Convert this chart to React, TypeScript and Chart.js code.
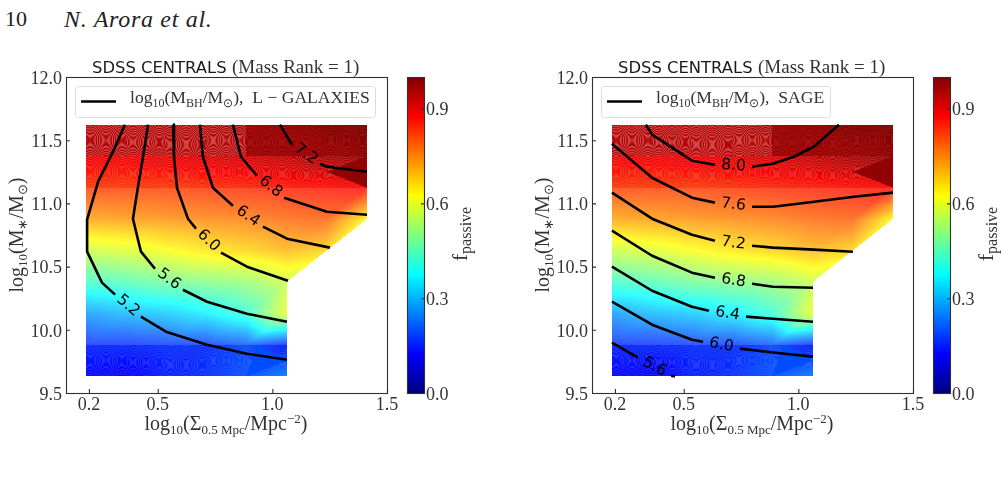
import React, { useEffect, useRef } from "react";
import { Chart, registerables } from "chart.js";
Chart.register(...registerables);

// ---- data ----
const xTicks = [0.2, 0.5, 1.0, 1.5];
const yTicks = [9.5, 10.0, 10.5, 11.0, 11.5, 12.0];
const barTicks = [0.0, 0.3, 0.6, 0.9];
const xNodes = [0.187, 0.362, 0.537, 0.712, 0.887, 1.062, 1.237, 1.412];
const yNodes = [11.623, 11.374, 11.125, 10.876, 10.627, 10.378, 10.129, 9.88, 9.631];
const N = null;
const fPassive11_62 = [0.95, 0.95, 0.96, 0.96, 0.98, 0.99, 1.0, 1.0];
const fPassive11_37 = [0.89, 0.89, 0.9, 0.91, 0.92, 0.94, 0.97, 0.99];
const fPassive11_13 = [0.82, 0.82, 0.82, 0.83, 0.84, 0.85, 0.86, 0.87];
const fPassive10_88 = [0.72, 0.73, 0.74, 0.75, 0.76, 0.78, 0.79, 0.63];
const fPassive10_63 = [0.57, 0.59, 0.62, 0.65, 0.67, 0.7, 0.67, N];
const fPassive10_38 = [0.43, 0.45, 0.48, 0.5, 0.52, 0.57, N, N];
const fPassive10_13 = [0.27, 0.3, 0.32, 0.36, 0.42, 0.6, N, N];
const fPassive9_88 = [0.16, 0.16, 0.17, 0.17, 0.2, 0.15, N, N];
const fPassive9_63 = [0.12, 0.11, 0.15, 0.17, 0.21, 0.26, N, N];
const fPassiveRows = [fPassive11_62, fPassive11_37, fPassive11_13, fPassive10_88, fPassive10_63, fPassive10_38, fPassive10_13, fPassive9_88, fPassive9_63];

const GAP = [NaN, NaN];
const lgal52 = [[.357,11.623],[.305,11.409],[.24,11.172],[.192,10.871],[.192,10.618],[.257,10.373],[.314,10.278],GAP,[.427,10.104],[.536,9.985],[.715,9.882],[.889,9.811],[1.064,9.763]];
const lgal56 = [[.458,11.623],[.436,11.369],[.414,11.132],[.392,10.879],[.414,10.713],[.427,10.618],[.488,10.483],GAP,[.61,10.317],[.715,10.222],[.889,10.127],[1.064,10.064]];
const lgal60 = [[.567,11.623],[.571,11.369],[.584,11.124],[.632,10.879],[.667,10.8],GAP,[.776,10.61],[.889,10.499],[1.068,10.388]];
const lgal64 = [[.684,11.623],[.697,11.369],[.741,11.124],[.828,10.982],GAP,[.959,10.816],[1.064,10.721],[1.251,10.65]];
const lgal68 = [[.828,11.623],[.863,11.369],[.933,11.219],GAP,[1.051,11.045],[1.238,10.934],[1.413,10.91]];
const lgal72 = [[1.033,11.623],[1.086,11.464],GAP,[1.208,11.314],[1.238,11.29],[1.413,11.251]];
const sage80 = [[.335,11.623],[.362,11.544],[.536,11.338],[.636,11.306],GAP,[.798,11.29],[.889,11.314],[.981,11.369],[1.068,11.449],[1.177,11.623]];
const sage76 = [[.187,11.472],[.362,11.203],[.536,11.045],[.636,11.006],GAP,[.798,10.974],[.889,10.974],[1.068,11.013],[1.243,11.053],[1.413,11.085]];
const sage72 = [[.187,11.085],[.362,10.879],[.536,10.752],[.636,10.705],GAP,[.798,10.665],[.889,10.65],[1.068,10.634],[1.238,10.618]];
const sage68 = [[.187,10.784],[.362,10.586],[.536,10.452],[.636,10.412],GAP,[.798,10.365],[.889,10.341],[1.064,10.333]];
const sage64 = [[.187,10.499],[.362,10.309],[.536,10.183],[.61,10.151],GAP,[.772,10.104],[.889,10.088],[1.064,10.064]];
const sage60 = [[.187,10.222],[.362,10.04],[.536,9.922],[.584,9.906],GAP,[.745,9.851],[.889,9.82],[1.064,9.788]];
const sage56 = [[.187,9.898],[.301,9.779],GAP,[.445,9.636],[.462,9.63]];
const lgalLevels = ["5.2", "5.6", "6.0", "6.4", "6.8", "7.2"];
const lgalLines = [lgal52, lgal56, lgal60, lgal64, lgal68, lgal72];
const sageLevels = ["8.0", "7.6", "7.2", "6.8", "6.4", "6.0", "5.6"];
const sageLines = [sage80, sage76, sage72, sage68, sage64, sage60, sage56];

// ---- styling ----
const SERIF = '"Liberation Serif"';
const INK = "#333333";
const W = 504, H = 487;

type Run = { t: string; s?: number; d?: number; f?: string; c?: string };
function width(ctx: any, runs: Run[], base: number) {
  let w = 0;
  for (const r of runs) { ctx.font = `${r.s || base}px ${r.f || SERIF}`; w += ctx.measureText(r.t).width; }
  return w;
}
function drawRuns(ctx: any, x: number, y: number, runs: Run[], base: number, opt: { center?: boolean; rot?: number } = {}) {
  ctx.save();
  ctx.translate(x, y);
  if (opt.rot) ctx.rotate(opt.rot);
  ctx.textBaseline = "alphabetic";
  ctx.textAlign = "left";
  let c = opt.center ? -width(ctx, runs, base) / 2 : 0;
  for (const r of runs) {
    ctx.font = `${r.s || base}px ${r.f || SERIF}`;
    ctx.fillStyle = r.c || INK;
    ctx.fillText(r.t, c, r.d || 0);
    c += ctx.measureText(r.t).width;
  }
  ctx.restore();
}

const clip = (v: number) => Math.max(0, Math.min(1, v));
const jet = (v: number) => [clip(1.5 - Math.abs(4 * v - 3)), clip(1.5 - Math.abs(4 * v - 2)), clip(1.5 - Math.abs(4 * v - 1))].map((c) => c * 255);

// how strongly each mesh row carries the rasterising fringe of the printed figure
const rowFringe = [0.5, 0.32, 0, 0, 0, 0, 0, 0.35];
const rowFringeColor = [[235, 150, 150], [225, 140, 140], [0, 0, 0], [0, 0, 0], [0, 0, 0], [0, 0, 0], [0, 0, 0], [110, 110, 255]];
const rowWash = [0, 0, 0.18, 0.2, 0.2, 0.2, 0.2, 0];

const side = (px: number, py: number, ax: number, ay: number, bx: number, by: number) => (bx - ax) * (py - ay) - (by - ay) * (px - ax);

const meshPlugin = {
  id: "mesh",
  beforeDatasetsDraw(chart: any) {
    const { left, top, width: aw, height: ah } = chart.chartArea;
    const sx = chart.scales.x, sy = chart.scales.y;
    const off = document.createElement("canvas");
    off.width = aw; off.height = ah;
    const oc = off.getContext("2d")!;
    const img = oc.createImageData(aw, ah);
    const dxN = xNodes[1] - xNodes[0], dyN = yNodes[0] - yNodes[1];
    for (let j = 0; j < ah; j++) for (let i = 0; i < aw; i++) {
      const X = sx.getValueForPixel(left + i + 0.5), Y = sy.getValueForPixel(top + j + 0.5);
      const cf = (X - xNodes[0]) / dxN, rf = (yNodes[0] - Y) / dyN;
      const c = Math.floor(cf), r = Math.floor(rf);
      if (c < 0 || r < 0 || c >= xNodes.length - 1 || r >= yNodes.length - 1) continue;
      const u = cf - c, w = rf - r;
      const tl = fPassiveRows[r][c], tr = fPassiveRows[r][c + 1], bl = fPassiveRows[r + 1][c], br = fPassiveRows[r + 1][c + 1];
      let v: number | null = null;
      if (u + w <= 1) {
        if (tl != null && tr != null && bl != null) v = tl + u * (tr - tl) + w * (bl - tl);
      } else if (tr != null && bl != null && br != null) {
        v = br + (1 - u) * (bl - br) + (1 - w) * (tr - br);
      }
      if (v == null) continue;
      let fr = rowFringe[r];
      if (r === 0) {
        // the top band stays saturated dark red; its right half is almost solid
        v = Math.max(v, c >= 4 ? 0.975 : 0.95);
        if (c >= 4) fr = 0.12;
      }
      if (r === 1 && c === 6 && u > 2 * Math.abs(w - 0.5)) { v = 0.985; fr = 0.04; }
      if (r === 7 && c === 4) {
        const s1 = side(u, w, 0, 1, 0.28, 0), s2 = side(u, w, 0.28, 0, 1, 0.5), s3 = side(u, w, 1, 0.5, 0, 1);
        if ((s1 >= 0 && s2 >= 0 && s3 >= 0) || (s1 <= 0 && s2 <= 0 && s3 <= 0)) { v = 0.2; fr = 0; }
      }
      let col = jet(v);
      const wash = rowWash[r];
      if (wash) col = col.map((q) => q + (255 - q) * wash);
      if (fr) {
        const dx = (u - 0.5) * 40, dy = (w - 0.5) * 31;
        const phase = (c % 2 ? 0.24 : 0.2) * (dx * dx - 0.6 * dy * dy) + (c % 3) * dy * 0.5;
        const t = 0.5 + 0.5 * Math.sin(phase);
        const amount = fr * t;
        col = col.map((q, k) => q + (rowFringeColor[r][k] - q) * amount);
      }
      const p = (j * aw + i) * 4;
      img.data[p] = col[0]; img.data[p + 1] = col[1]; img.data[p + 2] = col[2]; img.data[p + 3] = 255;
    }
    oc.putImageData(img, 0, 0);
    chart.ctx.drawImage(off, left, top);
  },
};

function frame(chart: any, inward: (ctx: any, a: any) => void) {
  const ctx = chart.ctx, a = chart.chartArea;
  ctx.save();
  ctx.strokeStyle = "#303030";
  ctx.lineWidth = 1.1;
  ctx.strokeRect(a.left + 0.5, a.top + 0.5, a.width, a.height);
  ctx.beginPath();
  inward(ctx, a);
  ctx.stroke();
  ctx.restore();
}

function fixedAxis(size: number, key: "width" | "height") {
  return (s: any) => {
    s[key] = size;
    s.paddingLeft = s.paddingRight = s.paddingTop = s.paddingBottom = 0;
  };
}

const AL = 66, AR = 387, AT = 77, AB = 393;

function makePanel(canvas: HTMLCanvasElement, lines: number[][][], levels: string[], legendRuns: Run[], boxW: number, lineX: [number, number]) {
  const texts = {
    id: "texts",
    afterDatasetsDraw(chart: any) {
      const ctx = chart.ctx;
      const sx = chart.scales.x, sy = chart.scales.y;
      frame(chart, (c, a) => {
        for (const t of xTicks) { const p = sx.getPixelForValue(t) + 0.5; c.moveTo(p, a.bottom); c.lineTo(p, a.bottom - 4); }
        for (const t of yTicks) { const p = sy.getPixelForValue(t) + 0.5; c.moveTo(a.left, p); c.lineTo(a.left + 4, p); }
      });
      // contour labels sit in the gap each contour leaves
      lines.forEach((ln, n) => {
        const g = ln.indexOf(GAP);
        const ax = sx.getPixelForValue(ln[g - 1][0]), ay = sy.getPixelForValue(ln[g - 1][1]);
        const bx = sx.getPixelForValue(ln[g + 1][0]), by = sy.getPixelForValue(ln[g + 1][1]);
        ctx.save();
        ctx.translate((ax + bx) / 2, (ay + by) / 2);
        ctx.rotate(Math.atan2(by - ay, bx - ax));
        ctx.font = '15.5px "DejaVu Sans"';
        ctx.fillStyle = "#000";
        ctx.textAlign = "center";
        ctx.textBaseline = "middle";
        ctx.fillText(levels[n], 0, 0);
        ctx.restore();
      });
      // legend
      const lx = AL + 9, ly = 86;
      ctx.save();
      ctx.strokeStyle = "#dcdcdc";
      ctx.lineWidth = 1;
      ctx.beginPath();
      ctx.roundRect(lx + 0.5, ly + 0.5, boxW, 31, 3);
      ctx.stroke();
      ctx.strokeStyle = "#000";
      ctx.lineWidth = 2.6;
      ctx.beginPath();
      ctx.moveTo(lineX[0], ly + 15.5);
      ctx.lineTo(lineX[1], ly + 15.5);
      ctx.stroke();
      ctx.restore();
      drawRuns(ctx, 130, 103, legendRuns, 17.6);
      // title
      drawRuns(ctx, 92, 73, [{ t: "SDSS CENTRALS", s: 16.4, f: '"DejaVu Sans"', c: "#1a1a1a" }], 16);
      drawRuns(ctx, 232, 73, [{ t: "(Mass Rank = 1)" }], 19);
      // axis titles
      drawRuns(ctx, 226, 430, [{ t: "log" }, { t: "10", s: 13, d: 4 }, { t: "(Σ" }, { t: "0.5 Mpc", s: 13, d: 4 }, { t: "/Mpc" }, { t: "−2", s: 13, d: -7 }, { t: ")" }], 20, { center: true });
      drawRuns(ctx, 23, 235, [{ t: "log" }, { t: "10", s: 13, d: 4 }, { t: "(M" }, { t: "∗", s: 13, d: 4 }, { t: "/M" }, { t: "⊙", s: 13, d: 4 }, { t: ")" }], 20, { center: true, rot: -Math.PI / 2 });
    },
  };
  return new Chart(canvas, {
    type: "scatter",
    plugins: [meshPlugin, texts],
    data: {
      datasets: lines.map((ln, n) => ({
        label: levels[n],
        data: ln.map(([x, y]) => ({ x, y })),
        showLine: true,
        pointRadius: 0,
        borderColor: "#000",
        borderWidth: 2.6,
        borderJoinStyle: "round" as const,
        spanGaps: false,
      })),
    },
    options: {
      animation: false,
      responsive: false,
      devicePixelRatio: 1,
      layout: { padding: { left: 0, top: AT, right: W - AR, bottom: H - AB - 40 } },
      plugins: { legend: { display: false }, tooltip: { enabled: false } },
      scales: {
        x: {
          type: "linear", min: 0.1, max: 1.5,
          afterBuildTicks: (s: any) => { s.ticks = xTicks.map((value) => ({ value })); },
          afterFit: fixedAxis(40, "height"),
          grid: { display: false, drawTicks: false }, border: { display: false },
          ticks: { autoSkip: false, maxRotation: 0, padding: 1, color: INK, font: { family: SERIF, size: 18 }, callback: (v: any) => Number(v).toFixed(1) },
        },
        y: {
          type: "linear", min: 9.5, max: 12,
          afterBuildTicks: (s: any) => { s.ticks = yTicks.map((value) => ({ value })); },
          afterFit: fixedAxis(AL, "width"),
          grid: { display: false, drawTicks: false }, border: { display: false },
          ticks: { autoSkip: false, padding: 4, labelOffset: 2, color: INK, font: { family: SERIF, size: 18 }, callback: (v: any) => Number(v).toFixed(1) },
        },
      },
    } as any,
  });
}

function makeBar(canvas: HTMLCanvasElement) {
  const texts = {
    id: "barTexts",
    afterDatasetsDraw(chart: any) {
      const sy = chart.scales.y;
      frame(chart, (c, a) => {
        for (const t of barTicks) { const p = sy.getPixelForValue(t) + 0.5; c.moveTo(a.right, p); c.lineTo(a.right - 3, p); }
      });
      drawRuns(chart.ctx, 72, 234, [{ t: "f", s: 22 }, { t: "passive", s: 16, d: 4 }], 22, { center: true, rot: -Math.PI / 2 });
    },
  };
  return new Chart(canvas, {
    type: "bar",
    plugins: [texts],
    data: {
      labels: ["fpassive"],
      datasets: [{
        data: [[0, 1]],
        barPercentage: 1,
        categoryPercentage: 1,
        backgroundColor: (c: any) => {
          const a = c.chart.chartArea;
          if (!a) return "#000";
          const g = c.chart.ctx.createLinearGradient(0, a.bottom, 0, a.top);
          for (let i = 0; i <= 32; i++) { const q = jet(i / 32); g.addColorStop(i / 32, `rgb(${q[0]},${q[1]},${q[2]})`); }
          return g;
        },
      }],
    },
    options: {
      animation: false,
      responsive: false,
      devicePixelRatio: 1,
      layout: { padding: { left: 12, top: AT, right: 24, bottom: H - AB } },
      plugins: { legend: { display: false }, tooltip: { enabled: false } },
      scales: {
        x: { display: false },
        y: {
          position: "right", min: 0, max: 1,
          afterBuildTicks: (s: any) => { s.ticks = barTicks.map((value) => ({ value })); },
          afterFit: fixedAxis(60, "width"),
          grid: { display: false, drawTicks: false }, border: { display: false },
          ticks: { autoSkip: false, padding: 2, labelOffset: 2, color: INK, font: { family: SERIF, size: 18 }, callback: (v: any) => Number(v).toFixed(1) },
        },
      },
    } as any,
  });
}

const legendHead: Run[] = [{ t: "log" }, { t: "10", s: 12, d: 4 }, { t: "(M" }, { t: "BH", s: 12, d: 4 }, { t: "/M" }, { t: "⊙", s: 12, d: 4 }];

export default function App() {
  const a = useRef<HTMLCanvasElement>(null), b = useRef<HTMLCanvasElement>(null), c = useRef<HTMLCanvasElement>(null), d = useRef<HTMLCanvasElement>(null);
  useEffect(() => {
    const charts = [
      makePanel(a.current!, lgalLines, lgalLevels, [...legendHead, { t: "),  L − GALAXIES" }], 300, [81, 116]),
      makeBar(b.current!),
      makePanel(c.current!, sageLines, sageLevels, [...legendHead, { t: "),  SAGE" }], 229, [81, 116]),
      makeBar(d.current!),
    ];
    return () => charts.forEach((x) => x.destroy());
  }, []);
  const abs = (left: number): React.CSSProperties => ({ position: "absolute", left, top: 0 });
  return (
    <div style={{ position: "fixed", left: 0, top: 0, width: 1008, height: 487, background: "#fff", overflow: "hidden" }}>
      <span style={{ position: "absolute", left: 5, top: 6, font: `22px ${SERIF}`, color: "#222" }}>10</span>
      <span style={{ position: "absolute", left: 64, top: 6, font: `italic 24px ${SERIF}`, letterSpacing: 0.7, color: "#222" }}>N. Arora et al.</span>
      <canvas ref={a} width={W} height={H} style={abs(0)} />
      <canvas ref={b} width={113} height={H} style={abs(395)} />
      <canvas ref={c} width={W} height={H} style={abs(526)} />
      <canvas ref={d} width={113} height={H} style={abs(921)} />
    </div>
  );
}
